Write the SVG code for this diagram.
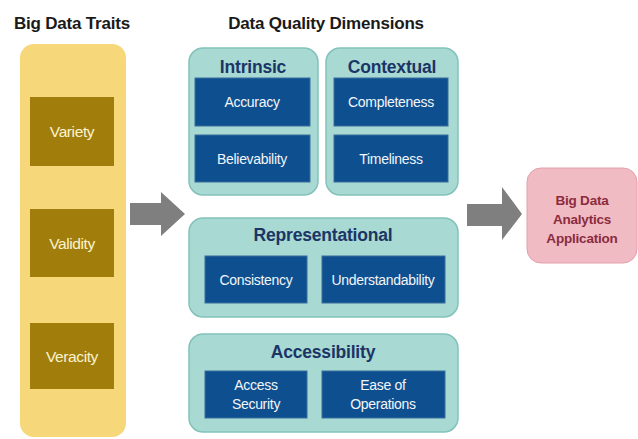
<svg xmlns="http://www.w3.org/2000/svg" width="638" height="439" viewBox="0 0 638 439">
  <style>
    text { font-family: "Liberation Sans", Arial, sans-serif; }
    .title { font-size: 17px; font-weight: bold; fill: #1a1a1a; letter-spacing: -0.2px; }
    .column { fill: #F6D77A; }
    .trait { fill: #A17E0C; }
    .trait-t { font-size: 15.5px; fill: #FBF3D0; text-anchor: middle; letter-spacing: -0.4px; }
    .group { fill: #A8D9D2; stroke: #82C2BA; stroke-width: 1.5; }
    .group-t { font-size: 17.5px; font-weight: bold; fill: #1B3566; text-anchor: middle; letter-spacing: -0.2px; }
    .dim { fill: #0E4F8F; stroke: #3A6E9E; stroke-width: 1; }
    .dim-t { font-size: 14px; fill: #F2F6FA; text-anchor: middle; letter-spacing: -0.3px; }
    .app { fill: #F1BBC3; stroke: #E2A0AC; stroke-width: 1; }
    .app-t { font-size: 13.5px; font-weight: bold; fill: #8A2B3E; text-anchor: middle; letter-spacing: -0.2px; }
    .arrow { fill: #7F7F7F; }
  </style>

  <text class="title" x="72" y="29" text-anchor="middle">Big Data Traits</text>
  <text class="title" x="326" y="29" text-anchor="middle">Data Quality Dimensions</text>

  <g id="big-data-traits">
    <rect class="column" x="20" y="44" width="106" height="393" rx="14"/>
    <g id="variety">
      <rect class="trait" x="30" y="97" width="84" height="69"/>
      <text class="trait-t" x="72" y="137">Variety</text>
    </g>
    <g id="validity">
      <rect class="trait" x="30" y="209" width="84" height="68"/>
      <text class="trait-t" x="72" y="249">Validity</text>
    </g>
    <g id="veracity">
      <rect class="trait" x="30" y="323" width="84" height="66"/>
      <text class="trait-t" x="72" y="362">Veracity</text>
    </g>
  </g>

  <g id="intrinsic">
    <rect class="group" x="189" y="48" width="129" height="147" rx="14"/>
    <text class="group-t" x="253" y="73">Intrinsic</text>
    <rect class="dim" x="195" y="78" width="115" height="48"/>
    <text class="dim-t" x="252" y="107">Accuracy</text>
    <rect class="dim" x="195" y="135" width="115" height="47"/>
    <text class="dim-t" x="252" y="164">Believability</text>
  </g>

  <g id="contextual">
    <rect class="group" x="326" y="48" width="132" height="147" rx="14"/>
    <text class="group-t" x="392" y="73">Contextual</text>
    <rect class="dim" x="334" y="78" width="114" height="48"/>
    <text class="dim-t" x="391" y="107">Completeness</text>
    <rect class="dim" x="334" y="135" width="114" height="47"/>
    <text class="dim-t" x="391" y="164">Timeliness</text>
  </g>

  <g id="representational">
    <rect class="group" x="189" y="218" width="269" height="99" rx="14"/>
    <text class="group-t" x="323" y="241">Representational</text>
    <rect class="dim" x="205" y="256" width="102" height="47"/>
    <text class="dim-t" x="256" y="285">Consistency</text>
    <rect class="dim" x="322" y="256" width="123" height="47"/>
    <text class="dim-t" x="383" y="285">Understandability</text>
  </g>

  <g id="accessibility">
    <rect class="group" x="189" y="334" width="269" height="98" rx="14"/>
    <text class="group-t" x="323" y="358">Accessibility</text>
    <rect class="dim" x="205" y="371" width="102" height="47"/>
    <text class="dim-t" x="256" y="390">Access</text>
    <text class="dim-t" x="256" y="409">Security</text>
    <rect class="dim" x="322" y="371" width="123" height="47"/>
    <text class="dim-t" x="383" y="390">Ease of</text>
    <text class="dim-t" x="383" y="409">Operations</text>
  </g>

  <g id="analytics-application">
    <rect class="app" x="527" y="168" width="110" height="95" rx="14"/>
    <text class="app-t" x="582" y="205">Big Data</text>
    <text class="app-t" x="582" y="224">Analytics</text>
    <text class="app-t" x="582" y="243">Application</text>
  </g>

  <g id="connectors">
    <polygon class="arrow" points="130,203 161,203 161,192 185,214 161,236 161,225 130,225"/>
    <polygon class="arrow" points="467,204 502,204 502,187 522,214 502,240 502,226 467,226"/>
  </g>
</svg>
